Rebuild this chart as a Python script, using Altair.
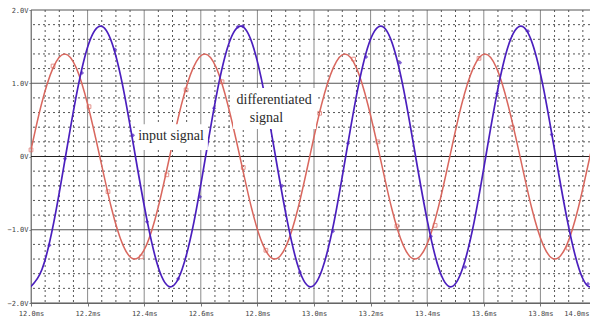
import altair as alt
import pandas as pd

# ---- curve samples (time in ms, volts) ----
red_t = [11.995, 12.036, 12.078, 12.119, 12.160, 12.201, 12.243, 12.284, 12.325, 12.366,
         12.408, 12.449, 12.490, 12.531, 12.573, 12.614, 12.655, 12.696, 12.738, 12.779,
         12.820, 12.861, 12.903, 12.944, 12.985, 13.026, 13.068, 13.109, 13.150, 13.191,
         13.233, 13.274, 13.315, 13.356, 13.398, 13.439, 13.480, 13.521, 13.563, 13.604,
         13.645, 13.686, 13.728, 13.769, 13.810, 13.851, 13.893, 13.934, 13.975, 14.016]
red_v = [0.00, 0.70, 1.21, 1.40, 1.21, 0.70, 0.00, -0.70, -1.21, -1.40,
         -1.21, -0.70, 0.00, 0.70, 1.21, 1.40, 1.21, 0.70, 0.00, -0.70,
         -1.21, -1.40, -1.21, -0.70, 0.00, 0.70, 1.21, 1.40, 1.21, 0.70,
         0.00, -0.70, -1.21, -1.40, -1.21, -0.70, 0.00, 0.70, 1.21, 1.40,
         1.21, 0.70, 0.00, -0.70, -1.21, -1.40, -1.21, -0.70, 0.00, 0.70]

blue_t = [11.998, 12.039, 12.081, 12.122, 12.163, 12.204, 12.246, 12.287, 12.328, 12.369,
          12.411, 12.452, 12.493, 12.534, 12.576, 12.617, 12.658, 12.699, 12.741, 12.782,
          12.823, 12.864, 12.906, 12.947, 12.988, 13.029, 13.071, 13.112, 13.153, 13.194,
          13.236, 13.277, 13.318, 13.359, 13.401, 13.442, 13.483, 13.524, 13.566, 13.607,
          13.648, 13.689, 13.731, 13.772, 13.813, 13.854, 13.896, 13.937, 13.978, 14.019]
blue_v = [-1.78, -1.54, -0.89, 0.00, 0.89, 1.54, 1.78, 1.54, 0.89, 0.00,
          -0.89, -1.54, -1.78, -1.54, -0.89, 0.00, 0.89, 1.54, 1.78, 1.54,
          0.89, 0.00, -0.89, -1.54, -1.78, -1.54, -0.89, 0.00, 0.89, 1.54,
          1.78, 1.54, 0.89, 0.00, -0.89, -1.54, -1.78, -1.54, -0.89, 0.00,
          0.89, 1.54, 1.78, 1.54, 0.89, 0.00, -0.89, -1.54, -1.78, -1.54]

# ---- marker positions ----
red_mark_t = [12.0, 12.078, 12.205, 12.272, 12.39, 12.48, 12.548, 12.675, 12.75, 12.83,
              13.02, 13.14, 13.226, 13.293, 13.428, 13.583, 13.70, 13.898]
red_mark_v = [0.09, 1.235, 0.68, -0.48, -1.37, -0.25, 0.91, 1.02, -0.15, -1.28,
              0.59, 1.33, 0.20, -0.95, -0.94, 1.34, 0.40, -1.25]
blue_mark_t = [12.065, 12.12, 12.18, 12.297, 12.36, 12.41, 12.52, 12.597, 12.647, 12.731,
               12.749, 12.887, 12.95, 13.067, 13.12, 13.184, 13.304, 13.413, 13.534, 13.647,
               13.756, 13.84, 13.968]
blue_mark_v = [-1.21, -0.03, 1.14, 1.46, 0.29, -0.89, -1.67, -0.55, 0.66, 1.77,
               1.78, -0.40, -1.58, -1.02, 0.18, 1.36, 1.28, -1.09, -1.51, 0.86,
               1.71, 0.30, -1.74]

# ---- annotations ----
label_text = ["input signal", "differentiated", "signal"]
label_t = [12.495, 12.859, 12.832]
label_v = [0.28, 0.77, 0.525]
box_t1 = [12.371, 12.714]
box_t2 = [12.625, 13.007]
box_v1 = [0.09, 0.375]
box_v2 = [0.44, 0.935]

# ---- grid / tick values ----
x_major = [12.0, 12.2, 12.4, 12.6, 12.8, 13.0, 13.2, 13.4, 13.6, 13.8, 14.0]
y_major = [-2.0, -1.0, 0.0, 1.0, 2.0]
x_minor = [round(12.0 + 0.05 * i, 2) for i in range(41) if i % 4 != 0]
y_minor = [round(-2.0 + 0.2 * i, 1) for i in range(21) if i % 5 != 0]

RED = "#d9675e"
BLUE = "#4b1fbe"

xs = alt.Scale(domain=[12.0, 14.0], range=[0, 566], nice=False, zero=False)
ys = alt.Scale(domain=[-2.0, 2.0], nice=False, zero=False)

xaxis = alt.Axis(values=x_major, labelExpr="format(datum.value, '.1f') + 'ms'",
                 grid=False, domainColor="#777", tickColor="#777", tickSize=3,
                 labelFont="DejaVu Sans Mono", labelFontSize=7, labelColor="#444",
                 labelPadding=3, labelFlush=False,
                 labelAlign={"condition": {"test": "datum.value > 13.9", "value": "right"},
                             "value": "center"},
                 labelOffset={"condition": {"test": "datum.value > 13.9", "value": -8},
                              "value": 0},
                 title=None)
yaxis = alt.Axis(values=y_major,
                 labelExpr="datum.value == 0 ? '0V' : format(datum.value, '.1f') + 'V'",
                 grid=False, domainColor="#777", tickColor="#777", tickSize=2,
                 labelFont="DejaVu Sans Mono", labelFontSize=7, labelColor="#444",
                 labelPadding=1, title=None)


def X(f):
    return alt.X(f, type="quantitative", scale=xs, axis=xaxis)


def Y(f):
    return alt.Y(f, type="quantitative", scale=ys, axis=yaxis)


red_df = pd.DataFrame({"t": red_t, "v": red_v})
blue_df = pd.DataFrame({"t": blue_t, "v": blue_v})
redm_df = pd.DataFrame({"t": red_mark_t, "v": red_mark_v})
bluem_df = pd.DataFrame({"t": blue_mark_t, "v": blue_mark_v})
lab_df = pd.DataFrame({"text": label_text, "t": label_t, "v": label_v})
box_df = pd.DataFrame({"t1": box_t1, "t2": box_t2, "v1": box_v1, "v2": box_v2})
xmin_df = pd.DataFrame({"t": x_minor})
ymin_df = pd.DataFrame({"v": y_minor})
xmaj_df = pd.DataFrame({"t": x_major})
ymaj_df = pd.DataFrame({"v": [v for v in y_major if v != 0.0]})
zero_df = pd.DataFrame({"v": [0.0]})

minor_x = alt.Chart(xmin_df).mark_rule(color="#555", strokeWidth=1, strokeDash=[2, 3]).encode(x=X("t"))
minor_y = alt.Chart(ymin_df).mark_rule(color="#555", strokeWidth=1, strokeDash=[2, 3]).encode(y=Y("v"))
major_x = alt.Chart(xmaj_df).mark_rule(color="#8a8a8a", strokeWidth=1).encode(x=X("t"))
major_y = alt.Chart(ymaj_df).mark_rule(color="#555", strokeWidth=1).encode(y=Y("v"))
zero_y = alt.Chart(zero_df).mark_rule(color="#222", strokeWidth=1).encode(y=Y("v"))

red_line = alt.Chart(red_df).mark_line(color=RED, strokeWidth=1.5, interpolate="natural",
                                       clip=True).encode(x=X("t"), y=Y("v"))
blue_line = alt.Chart(blue_df).mark_line(color=BLUE, strokeWidth=1.7, interpolate="natural",
                                         clip=True).encode(x=X("t"), y=Y("v"))
red_pts = alt.Chart(redm_df).mark_point(shape="square", filled=False, size=14, color=RED,
                                        strokeWidth=1).encode(x=X("t"), y=Y("v"))
blue_pts = alt.Chart(bluem_df).mark_point(shape="diamond", filled=True, size=18,
                                          color=BLUE).encode(x=X("t"), y=Y("v"))
boxes = alt.Chart(box_df).mark_rect(color="white").encode(
    x=X("t1"), x2="t2", y=Y("v1"), y2="v2")
texts = alt.Chart(lab_df).mark_text(font="Liberation Serif", fontSize=14, color="#2a2a2a",
                                    align="center", baseline="middle").encode(
    x=X("t"), y=Y("v"), text="text:N")

chart = alt.layer(minor_x, minor_y, major_x, major_y, zero_y, red_line, blue_line,
                  red_pts, blue_pts, boxes, texts).properties(
    width=559, height=293,
    autosize=alt.AutoSizeParams(type="none"),
    padding={"left": 31, "top": 10, "right": 0, "bottom": 17},
    background="white",
).configure_view(stroke=None)

chart.save("out.html", embed_options={"renderer": "svg", "actions": False})
